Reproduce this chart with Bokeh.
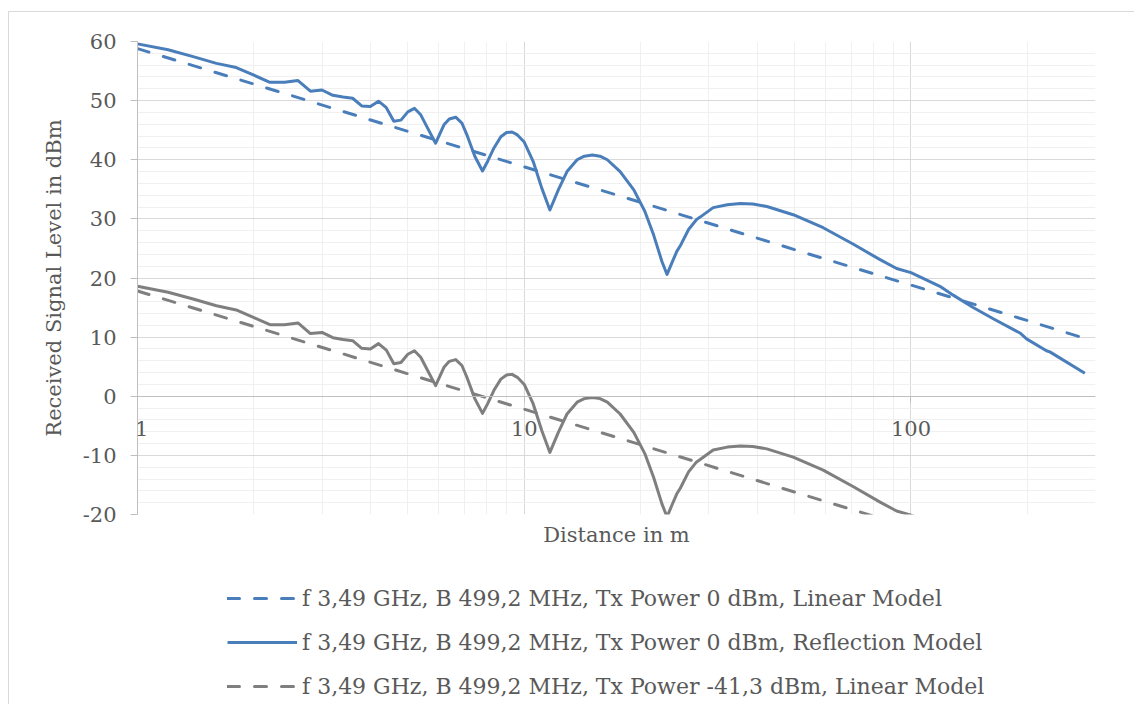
from bokeh.plotting import figure
from bokeh.layouts import column
from bokeh.models import (Range1d, LogAxis, FixedTicker, Legend, LegendItem,
                          PrintfTickFormatter, NumeralTickFormatter)
from bokeh.embed import file_html
from bokeh.resources import INLINE

# ---------------- data ----------------
lin_x = [1, 2, 5, 10, 20, 50, 100, 200, 281]
lin_blue = [58.8, 52.8, 44.8, 38.8, 32.8, 24.8, 18.8, 12.8, 9.8]
lin_gray = [17.8, 11.8, 3.8, -2.2, -8.2, -16.2, -22.2, -28.2, -31.2]

ref_x = [1.0, 1.2, 1.4, 1.6, 1.8, 2.0, 2.2, 2.4, 2.6, 2.8, 3.0, 3.2, 3.4, 3.6,
         3.8, 4.0, 4.2, 4.4, 4.6, 4.8, 5.0, 5.2, 5.4, 5.6, 5.9, 6.2, 6.4, 6.65,
         6.9, 7.1, 7.45, 7.8, 8.05, 8.35, 8.7, 9.0, 9.3, 9.6, 10.0, 10.55, 11.1,
         11.65, 12.25, 12.9, 13.7, 14.3, 15.0, 15.7, 16.4, 17.7, 19.2, 20.5,
         21.6, 22.7, 23.4, 24.1, 24.8, 25.3, 26.6, 27.9, 28.5, 30.8, 33.5, 36.2,
         39.0, 42.4, 49.6, 59.3, 71.0, 83.2, 91.8, 100, 118.8, 128.6, 144.8,
         163.2, 191.3, 199, 224, 228.6, 281.6]
ref_blue = [59.6, 58.6, 57.4, 56.3, 55.6, 54.3, 53.1, 53.1, 53.4, 51.6, 51.8,
            50.9, 50.6, 50.4, 49.1, 49.0, 49.9, 48.8, 46.5, 46.7, 48.1, 48.7,
            47.6, 45.6, 42.8, 45.9, 46.9, 47.2, 46.2, 44.3, 40.6, 38.1, 39.8,
            42.0, 43.9, 44.6, 44.7, 44.2, 43.0, 39.7, 35.2, 31.5, 34.9, 38.0,
            40.0, 40.6, 40.8, 40.6, 40.0, 38.0, 34.9, 31.3, 27.3, 22.8, 20.6,
            22.6, 24.5, 25.4, 28.2, 29.9, 30.3, 31.9, 32.4, 32.6, 32.5, 32.1,
            30.7, 28.5, 25.7, 23.1, 21.6, 20.9, 18.6, 17.1, 15.0, 13.1, 10.7,
            9.7, 7.7, 7.5, 3.9]
ref_gray = [18.6, 17.6, 16.4, 15.3, 14.6, 13.3, 12.1, 12.1, 12.4, 10.6, 10.8,
            9.9, 9.6, 9.4, 8.1, 8.0, 8.9, 7.8, 5.5, 5.7, 7.1, 7.7, 6.6, 4.6,
            1.8, 4.9, 5.9, 6.2, 5.2, 3.3, -0.4, -2.9, -1.2, 1.0, 2.9, 3.6, 3.7,
            3.2, 2.0, -1.3, -5.8, -9.5, -6.1, -3.0, -1.0, -0.4, -0.2, -0.4, -1.0,
            -3.0, -6.1, -9.7, -13.7, -18.2, -20.4, -18.4, -16.5, -15.6, -12.8,
            -11.1, -10.7, -9.1, -8.6, -8.4, -8.5, -8.9, -10.3, -12.5, -15.3,
            -17.9, -19.4, -20.1, -22.4, -23.9, -26.0, -27.9, -30.3, -31.3,
            -33.3, -33.5, -37.1]

x_major = [1, 10, 100]
x_minor = [2, 3, 4, 5, 6, 7, 8, 9, 20, 30, 40, 50, 60, 70, 80, 90, 200, 300]
y_major = [-20, -10, 0, 10, 20, 30, 40, 50, 60]
y_minor = [v for v in range(-20, 61, 2) if v % 10 != 0]

labels = [
    "f 3,49 GHz, B 499,2 MHz, Tx Power 0 dBm, Linear Model",
    "f 3,49 GHz, B 499,2 MHz, Tx Power 0 dBm, Reflection Model",
    "f 3,49 GHz, B 499,2 MHz, Tx Power -41,3 dBm, Linear Model",
]

BLUE = "#4A7EBB"
GRAY = "#7F7F7F"
TXT = "#595959"
FONT = "DejaVu Serif"
FS = "21px"

p = figure(width=1125, height=590, x_axis_type="log",
           x_range=Range1d(1, 300), y_range=Range1d(-20, 60),
           output_backend="svg", toolbar_location=None,
           min_border_left=128, min_border_right=39,
           min_border_top=29, min_border_bottom=88)
p.outline_line_color = None
p.background_fill_color = "white"
p.border_fill_color = None

xt = FixedTicker(ticks=x_major, minor_ticks=x_minor)
yt = FixedTicker(ticks=y_major, minor_ticks=y_minor)

# grids
p.xgrid.ticker = xt
p.ygrid.ticker = yt
for g in (p.xgrid[0], p.ygrid[0]):
    g.grid_line_color = "#d9d9d9"
    g.grid_line_width = 1
    g.minor_grid_line_color = "#f0f0f0"
    g.minor_grid_line_width = 1

# bottom axis only carries the title
xa = p.xaxis[0]
xa.ticker = FixedTicker(ticks=[], minor_ticks=[])
xa.axis_line_color = None
xa.major_tick_line_color = None
xa.minor_tick_line_color = None
xa.major_tick_out = 0
xa.major_label_standoff = 0
xa.axis_label = "Distance in m"
xa.axis_label_standoff = 8
xa.axis_label_text_font = FONT
xa.axis_label_text_font_size = FS
xa.axis_label_text_font_style = "normal"
xa.axis_label_text_color = TXT

# axis crossing at y = 0 with the tick labels
x0 = LogAxis(ticker=xt, fixed_location=0,
             formatter=NumeralTickFormatter(format="0"),
             major_label_overrides={1: "\u2009\u20091"})
x0.axis_line_color = "#bfbfbf"
x0.major_tick_line_color = "#bfbfbf"
x0.major_tick_out = 6
x0.major_tick_in = 0
x0.minor_tick_line_color = None
x0.major_label_standoff = 15
x0.major_label_text_font = FONT
x0.major_label_text_font_size = FS
x0.major_label_text_color = TXT
p.add_layout(x0, "below")

ya = p.yaxis[0]
ya.ticker = yt
ya.formatter = PrintfTickFormatter(format="%d")
ya.axis_line_color = "#bfbfbf"
ya.major_tick_line_color = "#bfbfbf"
ya.major_tick_out = 7
ya.major_tick_in = 0
ya.minor_tick_line_color = None
ya.major_label_standoff = 14
ya.major_label_text_font = FONT
ya.major_label_text_font_size = FS
ya.major_label_text_color = TXT
ya.axis_label = "Received Signal Level in dBm"
ya.axis_label_standoff = 14
ya.axis_label_text_font = FONT
ya.axis_label_text_font_size = FS
ya.axis_label_text_font_style = "normal"
ya.axis_label_text_color = TXT

p.line(ref_x, ref_gray, line_color=GRAY, line_width=3, line_join="round")
p.line(lin_x, lin_gray, line_color=GRAY, line_width=3,
       line_dash="12 15", line_cap="round")
p.line(ref_x, ref_blue, line_color=BLUE, line_width=3, line_join="round")
p.line(lin_x, lin_blue, line_color=BLUE, line_width=3,
       line_dash="12 15", line_cap="round")

# ---------------- legend strip below the chart ----------------
# (its frame is aligned with the chart frame by the column layout;
#  the series are drawn again there only as legend keys, out of its view)
q = figure(width=1125, height=119, x_range=Range1d(-2, -1),
           y_range=Range1d(-2, -1),
           output_backend="svg", toolbar_location=None,
           x_axis_location=None, y_axis_location=None,
           min_border=0, margin=(-17, 0, 0, 0))
q.grid.visible = False
q.outline_line_color = None
q.background_fill_color = None
q.border_fill_color = None
k1 = q.line(lin_x, lin_blue, line_color=BLUE, line_width=3,
            line_dash="12 15", line_cap="round")
k2 = q.line(ref_x, ref_blue, line_color=BLUE, line_width=3)
k3 = q.line(lin_x, lin_gray, line_color=GRAY, line_width=3,
            line_dash="12 15", line_cap="round")
legend = Legend(items=[LegendItem(label=labels[0], renderers=[k1]),
                       LegendItem(label=labels[1], renderers=[k2]),
                       LegendItem(label=labels[2], renderers=[k3])],
                location=(90, 5), orientation="vertical")
legend.glyph_width = 70
legend.glyph_height = 26
legend.label_height = 26
legend.label_standoff = 5
legend.spacing = 18
legend.padding = 0
legend.margin = 0
legend.border_line_color = None
legend.background_fill_alpha = 0
legend.label_text_font = FONT
legend.label_text_font_size = "22px"
legend.label_text_color = TXT
q.add_layout(legend, "center")

layout = column(p, q, spacing=0, margin=(11, 0, 0, 8),
                styles={"border-top": "1px solid #d9d9d9",
                        "border-left": "1px solid #d9d9d9",
                        "background-color": "white"})

open("out.html", "w").write(file_html(layout, INLINE))
